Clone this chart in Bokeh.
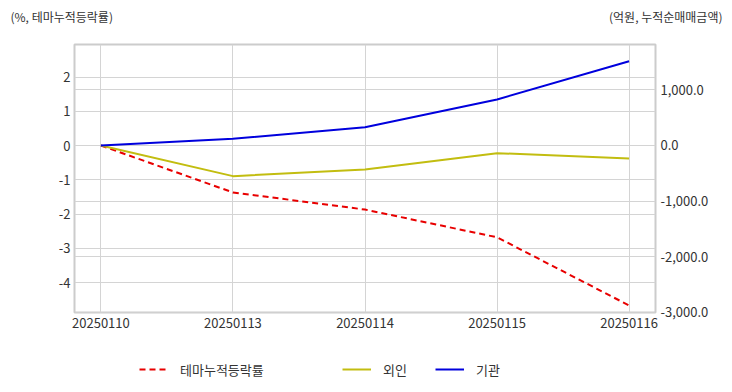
from bokeh.plotting import figure
from bokeh.layouts import column, row
from bokeh.models import (ColumnDataSource, Range1d, LinearAxis, FixedTicker,
                          NumeralTickFormatter, Grid, Label, Legend, LegendItem)
from bokeh.embed import file_html
from bokeh.resources import INLINE

dates = ["20250110", "20250113", "20250114", "20250115", "20250116"]
theme_rate = [0.0, -1.37, -1.87, -2.68, -4.67]
foreign = [0.0, -551, -431, -138, -234]
institution = [0.0, 120, 329, 826, 1514]
left_ticks = [-4, -3, -2, -1, 0, 1, 2]
right_ticks = [-3000, -2000, -1000, 0, 1000]
left_title = "(%, 테마누적등락률)"
right_title = "(억원, 누적순매매금액)"
series_names = ["테마누적등락률", "외인", "기관"]

FONT = "Noto Sans CJK KR"
TXT = "#333333"
GRID = "#d4d4d4"
RED, YEL, BLU = "#e80000", "#c2bd10", "#0000dd"

xs = list(range(len(dates)))
src = ColumnDataSource(dict(x=xs, r=theme_rate, f=foreign, i=institution))

W = 732
HW = W // 2


def blank(width, height, x0, x1, y0, y1):
    f = figure(width=width, height=height, output_backend="svg", toolbar_location=None,
               x_range=Range1d(x0, x1), y_range=Range1d(y0, y1),
               x_axis_type=None, y_axis_type=None,
               min_border_left=0, min_border_right=0, min_border_top=0, min_border_bottom=0)
    f.outline_line_color = None
    f.grid.visible = False
    return f


# ---- header: axis titles ----
hl = blank(HW, 40, 0, HW, 40, 0)
hl.add_layout(Label(x=10, y=16, text=left_title, text_font=FONT, text_font_size="12px",
                    text_color=TXT, text_baseline="middle", text_align="left"))
hr = blank(W - HW, 40, HW, W, 40, 0)
hr.add_layout(Label(x=722, y=16, text=right_title, text_font=FONT, text_font_size="12px",
                    text_color=TXT, text_baseline="middle", text_align="right"))
header = row(hl, hr, spacing=0)

# ---- main chart ----
p = figure(width=W, height=302, output_backend="svg", toolbar_location=None,
           x_range=Range1d(-0.2, 4.2), y_range=Range1d(-4.876, 2.95),
           min_border_left=74, min_border_right=77, min_border_top=4, min_border_bottom=30)
p.extra_y_ranges = {"right": Range1d(-3000.5, 1814)}
p.outline_line_color = "#cccccc"
p.outline_line_width = 2

p.xaxis[0].ticker = FixedTicker(ticks=xs)
p.xaxis[0].major_label_overrides = {x: d for x, d in zip(xs, dates)}
p.yaxis[0].ticker = FixedTicker(ticks=left_ticks)
p.yaxis[0].formatter = NumeralTickFormatter(format="0")
ra = LinearAxis(y_range_name="right", ticker=FixedTicker(ticks=right_ticks),
                formatter=NumeralTickFormatter(format="0,0.0"))
p.add_layout(ra, "right")

for ax in [p.xaxis[0], p.yaxis[0], ra]:
    ax.axis_line_color = None
    ax.major_tick_line_color = None
    ax.minor_tick_line_color = None
    ax.major_tick_out = 0
    ax.major_tick_in = 0
    ax.minor_tick_out = 0
    ax.minor_tick_in = 0
    ax.major_label_text_font = FONT
    ax.major_label_text_font_size = "13px"
    ax.major_label_text_color = TXT
p.xaxis[0].major_label_standoff = 5
p.yaxis[0].major_label_standoff = 4
ra.major_label_standoff = 5

p.xgrid.grid_line_color = GRID
p.xgrid.ticker = FixedTicker(ticks=xs)
p.ygrid.grid_line_color = GRID
p.ygrid.ticker = FixedTicker(ticks=left_ticks)
p.add_layout(Grid(dimension=1, ticker=FixedTicker(ticks=right_ticks), y_range_name="right",
                  grid_line_color=GRID))

p.line("x", "r", source=src, line_color=RED, line_width=2, line_dash="6 4")
p.line("x", "f", source=src, y_range_name="right", line_color=YEL, line_width=2)
p.line("x", "i", source=src, y_range_name="right", line_color=BLU, line_width=2)

# ---- footer: legend (its sample lines lie outside the footer's visible range) ----
footer = blank(W, 50, -0.2, 4.2, 100000, 100001)
lr = footer.line("x", "r", source=src, line_color=RED, line_width=2, line_dash="6 4")
ly = footer.line("x", "f", source=src, line_color=YEL, line_width=2)
lb = footer.line("x", "i", source=src, line_color=BLU, line_width=2)
for rend, lab, lx in [(lr, series_names[0], 65), (ly, series_names[1], 268), (lb, series_names[2], 361)]:
    footer.add_layout(Legend(items=[LegendItem(label=lab, renderers=[rend])], location=(lx, 13),
                             orientation="horizontal", padding=0, margin=0,
                             border_line_color=None, background_fill_alpha=0,
                             glyph_width=29, glyph_height=20, label_standoff=12,
                             label_text_font=FONT, label_text_font_size="13px",
                             label_text_color=TXT))

layout = column(header, p, footer, spacing=0)
open("out.html", "w").write(file_html(layout, INLINE))
